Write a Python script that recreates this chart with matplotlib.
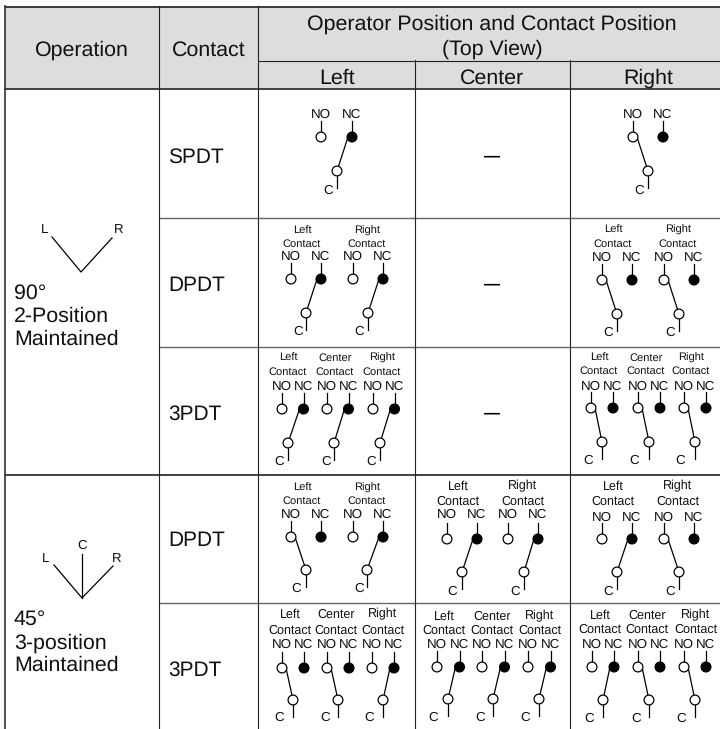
import matplotlib
matplotlib.use("Agg")
import matplotlib.pyplot as plt
from matplotlib.patches import Circle, Rectangle

plt.rcParams['font.family'] = ['Liberation Sans', 'DejaVu Sans']
plt.rcParams['text.hinting'] = 'no_hinting'

contacts = ["SPDT", "DPDT", "3PDT", "DPDT", "3PDT"]
columns = ["Left", "Center", "Right"]
operations = [["90°", "2-Position", "Maintained"], ["45°", "3-position", "Maintained"]]
header_main = "Operator Position and Contact Position"
header_sub = "(Top View)"

# which side each pole is closed on, per row and column
states = [
    [["NC"], None, ["NO"]],
    [["NC", "NC"], None, ["NO", "NO"]],
    [["NC", "NC", "NC"], None, ["NO", "NO", "NO"]],
    [["NO", "NC"], ["NC", "NC"], ["NC", "NO"]],
    [["NO", "NO", "NC"], ["NC", "NC", "NC"], ["NC", "NO", "NO"]],
]
pole_names = {1: [], 2: ["Left", "Right"], 3: ["Left", "Center", "Right"]}

# layout below, all in pixels of the 720x729 picture
col_x = [5, 159, 258, 414.5, 570]
row_y = [89, 218, 346.5, 475, 603]
col_centers = [337, 492, 648]
contact_y = [155, 283, 412, 539, 668]

# (row, col): NO x, C x, pole title x, C label x, pitch,
#             y of circle, y of C circle, y title, y "Contact", y NO/NC, y C label, title size
cells = {
    (0, 0): ([321], [337], [], [328], 31, 137, 171, 0, 0, 113, 189, 8),
    (0, 2): ([633], [648], [], [639], 30, 137, 171, 0, 0, 113, 189, 8),
    (1, 0): ([291, 353], [306, 368], [302, 367], [298, 359], 30, 279, 313, 230, 243, 255, 330, 8),
    (1, 2): ([602, 664], [617, 679], [613, 678], [608, 670], 30, 280, 314, 229, 243, 256, 331, 8),
    (2, 0): ([282, 327, 373], [288, 334, 380], [288, 335, 382], [279, 326, 371], 21.5, 409, 443, 357, 371, 385, 460, 8),
    (2, 2): ([591, 638, 684], [602, 649, 695], [599, 646, 691], [588, 634, 680], 22, 408, 442, 357, 370, 385, 459, 8),
    (3, 0): ([291, 353], [306, 367], [302, 367], [296, 359], 30, 537, 570, 487, 500, 513, 587, 8),
    (3, 1): ([447, 508], [462, 524], [458, 523], [452, 515], 30, 539, 572, 485, 500, 513, 590, 9),
    (3, 2): ([602, 664], [617, 679], [613, 678], [608, 670], 30, 539, 572, 485, 500, 516, 590, 9),
    (4, 0): ([282, 327, 372], [293, 338, 383], [290, 336, 383], [279, 325, 369], 22, 668, 700, 613, 629, 643, 716, 9),
    (4, 1): ([437, 482, 528], [448, 493, 539], [444, 492, 540], [433, 480, 525], 22.5, 667, 699, 615, 629, 643, 716, 9),
    (4, 2): ([592, 638, 684], [603, 649, 695], [600, 647, 696], [589, 636, 681], 22, 667, 700, 614, 628, 643, 717, 9),
}


def label(ax, x, y, s, size, ha='center'):
    # y is the middle of the capital letters
    ax.text(x, y + 0.36 * size / 0.72, s, fontsize=size, ha=ha, va='baseline', color='#111111')


def draw_pole(ax, state, no_x, nc_x, c_x, y, c_y, lw=0.9):
    ax.plot([no_x, no_x], [y - 16, y], color='k', lw=lw, zorder=2)
    ax.plot([nc_x, nc_x], [y - 16, y], color='k', lw=lw, zorder=2)
    ax.plot([c_x, c_x], [c_y, c_y + 17], color='k', lw=lw, zorder=2)
    if state == "NC":
        ax.plot([c_x, nc_x - 4], [c_y, y], color='k', lw=lw, zorder=2)
    else:
        ax.plot([no_x + 4, c_x], [y, c_y], color='k', lw=lw, zorder=2)
    ax.add_patch(Circle((no_x, y), 4.9, fc='white', ec='k', lw=lw, zorder=3))
    ax.add_patch(Circle((nc_x, y), 4.9, fc='k', ec='k', lw=lw, zorder=3))
    ax.add_patch(Circle((c_x, c_y), 4.9, fc='white', ec='k', lw=lw, zorder=3))


fig = plt.figure(figsize=(7.2, 7.29), dpi=100)
ax = fig.add_axes([0, 0, 1, 1])
ax.set_xlim(0, 720)
ax.set_ylim(729, 0)
ax.axis('off')

# header band
ax.add_patch(Rectangle((5, 6), 715, 83, fc='#dcdddd', ec='none', zorder=0))

# grid
ax.plot([5, 720], [6.5, 6.5], color='#222222', lw=1.2)
ax.plot([258, 720], [60.5, 60.5], color='#222222', lw=0.8)
ax.plot([5, 720], [row_y[0], row_y[0]], color='#333333', lw=1.3)
ax.plot([5, 720], [row_y[3], row_y[3]], color='#333333', lw=1.3)
for i in [1, 2, 4]:
    ax.plot([159, 720], [row_y[i], row_y[i]], color='#666666', lw=1.0)
ax.plot([col_x[0], col_x[0]], [6, 729], color='#333333', lw=1.2)
ax.plot([col_x[1], col_x[1]], [6, 729], color='#222222', lw=0.8)
ax.plot([col_x[2], col_x[2]], [6, 729], color='#222222', lw=0.8)
ax.plot([col_x[3], col_x[3]], [60, 729], color='#222222', lw=0.8)
ax.plot([col_x[4], col_x[4]], [60, 729], color='#222222', lw=0.8)

# header text
label(ax, 82, 48, "Operation", 15.4)
label(ax, 208.5, 48, "Contact", 15.4)
label(ax, 491.5, 22, header_main, 15.4)
label(ax, 492, 47, header_sub, 15.4)
for x, name in zip(col_centers, columns):
    label(ax, x, 76, name, 15.4)

# contact names
for y, name in zip(contact_y, contacts):
    label(ax, 168, y, name, 15.0, ha='left')

# operation column
for lines, ys in zip(operations, [[291, 314, 337], [617, 641, 663]]):
    for y, s in zip(ys, lines):
        label(ax, 14, y, s, 15.4, ha='left')

ax.plot([52, 81, 112], [237, 272, 238], color='k', lw=0.9)
label(ax, 45, 228, "L", 9.5)
label(ax, 119, 228, "R", 9.5)
ax.plot([54, 82, 113], [565, 598, 566], color='k', lw=0.9)
ax.plot([82, 82], [554, 598], color='k', lw=0.9)
label(ax, 46, 557, "L", 9.5)
label(ax, 82, 544, "C", 9.5)
label(ax, 117, 557, "R", 9.5)

# switch diagrams
for r, row in enumerate(states):
    for c, poles in enumerate(row):
        if poles is None:
            ax.text(col_centers[c], contact_y[r] + 5.5, "—", fontsize=11.5, ha='center',
                    va='baseline', color='k', fontweight='bold')
            continue
        no_xs, c_xs, title_xs, c_label_xs, pitch, y, c_y, y_title, y_contact, y_no, y_c, size = cells[(r, c)]
        for i, state in enumerate(poles):
            draw_pole(ax, state, no_xs[i], no_xs[i] + pitch, c_xs[i], y, c_y)
            label(ax, no_xs[i], y_no, "NO", 9.6)
            label(ax, no_xs[i] + pitch, y_no, "NC", 9.6)
            label(ax, c_label_xs[i], y_c, "C", 9.6)
        for x, name in zip(title_xs, pole_names[len(poles)]):
            label(ax, x, y_title, name, size)
            label(ax, x, y_contact, "Contact", size)

fig.savefig("out.png", dpi=100)
